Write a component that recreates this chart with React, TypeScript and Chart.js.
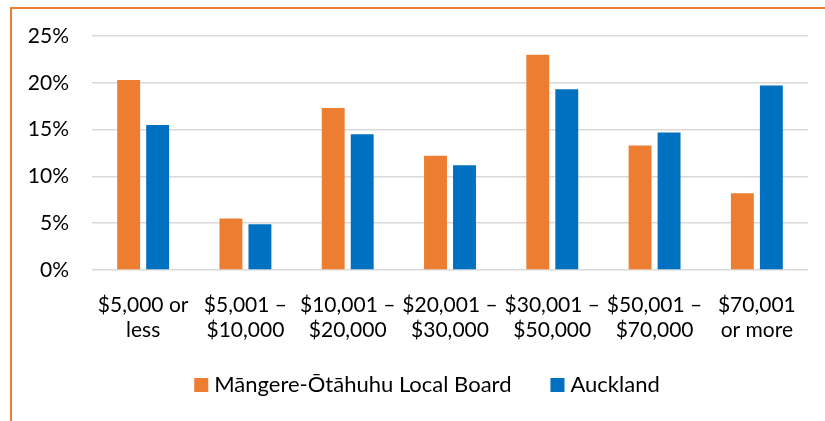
import React, { useEffect, useRef } from "react";
import { Chart, registerables } from "chart.js";

Chart.register(...registerables);

const categories: string[][] = [
  ["$5,000 or", "less"],
  ["$5,001 –", "$10,000"],
  ["$10,001 –", "$20,000"],
  ["$20,001 –", "$30,000"],
  ["$30,001 –", "$50,000"],
  ["$50,001 –", "$70,000"],
  ["$70,001", "or more"],
];
const mangereValues = [20.3, 5.5, 17.3, 12.2, 23.0, 13.3, 8.2];
const aucklandValues = [15.5, 4.9, 14.5, 11.2, 19.3, 14.7, 19.7];
const seriesNames = ["Māngere-Ōtāhuhu Local Board", "Auckland"];
const seriesColors = ["#ED7D31", "#0070C0"];
const yTicks = [0, 5, 10, 15, 20, 25];

const FONT = "Lato, 'Open Sans', sans-serif";

const legendPlugin = {
  id: "customLegend",
  afterDraw(chart: any) {
    const ctx = chart.ctx as CanvasRenderingContext2D;
    ctx.save();
    ctx.font = `22px ${FONT}`;
    ctx.textBaseline = "middle";
    ctx.fillStyle = "#000";
    const box = 14;
    const gapText = 6;
    const gapItem = 39;
    const widths = chart.data.datasets.map((d: any) => ctx.measureText(d.label).width);
    let total = 0;
    widths.forEach((w: number, i: number) => {
      total += box + gapText + w + (i < widths.length - 1 ? gapItem : 0);
    });
    let x = 427 - total / 2;
    const cy = 385;
    chart.data.datasets.forEach((d: any, i: number) => {
      ctx.fillStyle = d.backgroundColor;
      ctx.fillRect(x, cy - box / 2, box, box);
      ctx.fillStyle = "#000";
      ctx.fillText(d.label, x + box + gapText, cy);
      x += box + gapText + widths[i] + gapItem;
    });
    ctx.restore();
  },
};

export default function App() {
  const ref = useRef<HTMLCanvasElement | null>(null);
  useEffect(() => {
    document.body.style.margin = "0";
    const ctx = ref.current!.getContext("2d")!;
    const chart = new Chart(ctx, {
      type: "bar",
      data: {
        labels: categories,
        datasets: [
          {
            label: seriesNames[0],
            data: mangereValues,
            backgroundColor: seriesColors[0],
            categoryPercentage: 0.567,
            barPercentage: 0.79,
          },
          {
            label: seriesNames[1],
            data: aucklandValues,
            backgroundColor: seriesColors[1],
            categoryPercentage: 0.567,
            barPercentage: 0.79,
          },
        ],
      },
      options: {
        responsive: false,
        animation: false,
        layout: { padding: { top: 36, right: 17, left: 0, bottom: 71 } },
        plugins: {
          tooltip: { enabled: false },
          legend: { display: false },
        },
        scales: {
          x: {
            grid: { display: false },
            border: { display: false },
            ticks: {
              color: "#000",
              font: { family: FONT, size: 21, lineHeight: 1.22 },
              padding: 14,
              maxRotation: 0,
              autoSkip: false,
            },
            afterFit: (s: any) => {
              s.height = 80;
            },
          },
          y: {
            min: 0,
            max: 25,
            afterBuildTicks: (s: any) => {
              s.ticks = yTicks.map((v) => ({ value: v }));
            },
            grid: { color: "#d9d9d9", lineWidth: 1.5, drawTicks: false },
            border: { display: false },
            ticks: {
              color: "#000",
              font: { family: FONT, size: 21 },
              padding: 23,
              callback: (v: any) => v + "%",
            },
            afterFit: (s: any) => {
              s.width = 92;
            },
          },
        },
      },
      plugins: [legendPlugin],
    });
    return () => chart.destroy();
  }, []);
  return (
    <div style={{ position: "relative", width: 825, height: 421, overflow: "hidden", background: "#fff" }}>
      <div
        style={{
          position: "absolute",
          left: 10,
          top: 7,
          width: 900,
          height: 500,
          borderTop: "2px solid #ED7D31",
          borderLeft: "2px solid #ED7D31",
        }}
      />
      <canvas ref={ref} width={825} height={421} style={{ position: "absolute", left: 0, top: 0 }} />
    </div>
  );
}
